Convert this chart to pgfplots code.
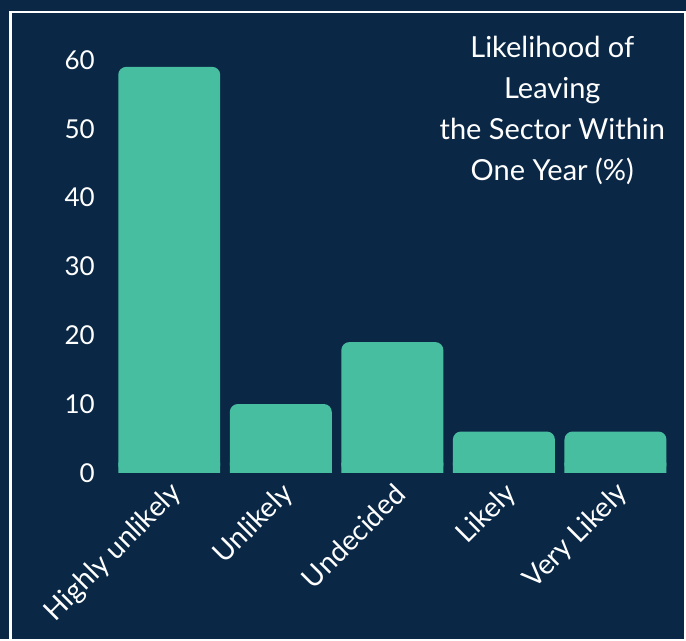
\documentclass[border=0pt]{standalone}
\usepackage{fontspec}
\setmainfont{Lato}
\usepackage{pgfplots}
\pgfplotsset{compat=1.18}

\definecolor{navybg}{RGB}{10,40,70}
\definecolor{barteal}{RGB}{72,190,160}

\begin{document}
\begin{tikzpicture}
% background and frame
\fill[navybg] (-113.5pt,-166pt) rectangle (572.5pt,473pt);
\draw[white, line width=2.5pt] (-103pt,-166pt) -- (-103pt,461pt) -- (571.5pt,461pt) -- (571.5pt,-166pt);

\begin{axis}[
at={(0pt,0pt)}, anchor=south west,
scale only axis,
width=558pt, height=413pt,
xmin=-0.5, xmax=4.5,
ymin=0, ymax=60,
axis line style={draw=none},
tick style={draw=none},
xtick={0,1,2,3,4},
xticklabels={Highly unlikely,Unlikely,Undecided,Likely,Very Likely},
ytick={0,10,20,30,40,50,60},
/pgf/number format/assume math mode=true,
tick label style={text=white},
yticklabel style={font=\fontsize{26}{30}\selectfont, anchor=east, xshift=-18.5pt, inner sep=0pt},
xticklabel style={font=\fontsize{28}{32}\selectfont, xshift=8pt, yshift=-12pt, rotate=45, anchor=east, inner sep=0pt},
ybar, bar width=102pt,
]
% square base under each bar, so only the top corners look rounded
\addplot[fill=barteal, draw=none, bar shift=0pt]
coordinates {(0,1.5) (1,1.5) (2,1.5) (3,1.5) (4,1.5)};
\addplot[fill=barteal, draw=none, rounded corners=8pt, bar shift=0pt]
coordinates {(0,59) (1,10) (2,19) (3,6) (4,6)};
\end{axis}

\node[align=center, text=white, font=\fontsize{29}{41}\selectfont, anchor=north, inner sep=0pt]
  at (439pt,437pt) {Likelihood of\\Leaving\\the Sector Within\\One Year (\%)};
\end{tikzpicture}
\end{document}
